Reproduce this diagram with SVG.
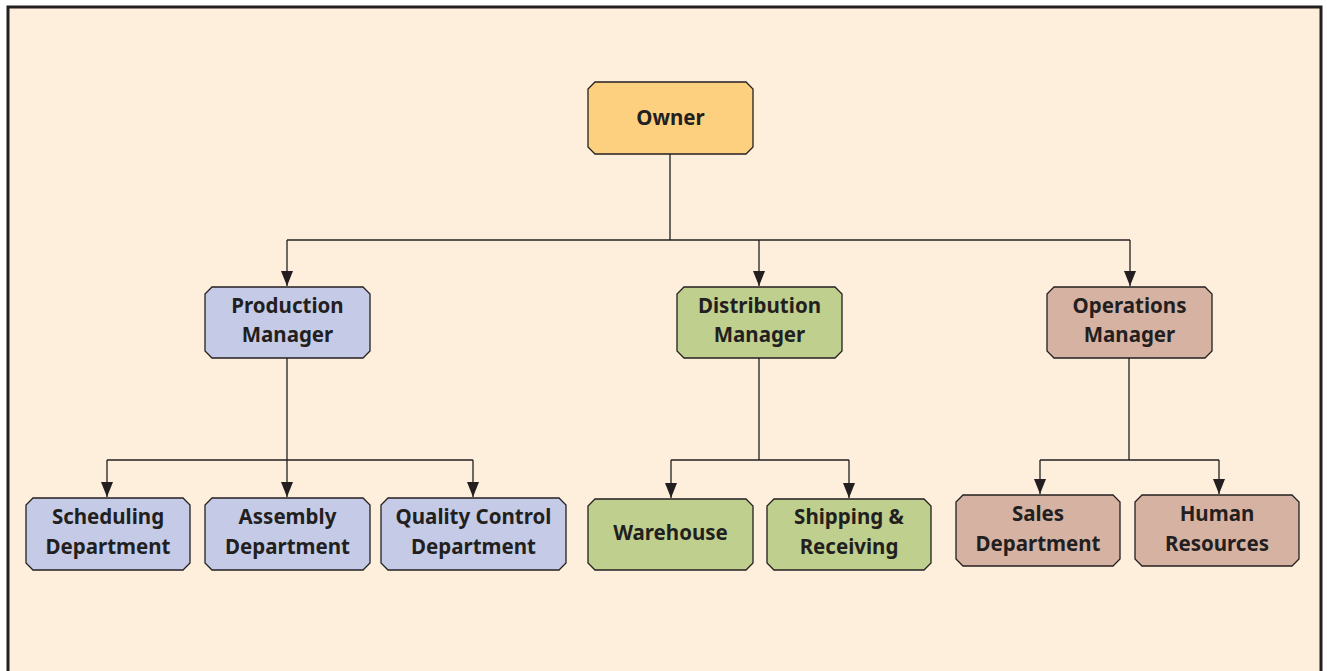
<svg xmlns="http://www.w3.org/2000/svg" width="1327" height="671" viewBox="0 0 1327 671">
<defs>
<style>
.bx{stroke:#231f20;stroke-width:1.3}
.own{fill:#fdd080}.blu{fill:#c5cbe6}.grn{fill:#bfcf8e}.brn{fill:#d6b2a3}
text{font-family:"Noto Sans","Open Sans",sans-serif;font-weight:700;font-size:20.5px;fill:#231f20;text-anchor:middle}
.ln{fill:none;stroke:#231f20;stroke-width:1.3}
</style>
<marker id="a" markerUnits="userSpaceOnUse" markerWidth="14" markerHeight="17" viewBox="-7 -16 14 17" refX="0" refY="0" orient="0">
<path d="M-6,-15 L6,-15 L0,0 Z" fill="#231f20"/>
</marker>
</defs>
<rect x="8" y="7" width="1313" height="680" fill="#feefdc" stroke="#231f20" stroke-width="3"/>
<g id="connectors" class="ln">
<path d="M670,154 V240 M287,240 H1130"/>
<path d="M287,240 V286" marker-end="url(#a)"/>
<path d="M759,240 V286" marker-end="url(#a)"/>
<path d="M1130,240 V286" marker-end="url(#a)"/>
<path d="M287,358 V460 M107,460 H473"/>
<path d="M107,460 V497" marker-end="url(#a)"/>
<path d="M287,460 V497" marker-end="url(#a)"/>
<path d="M473,460 V497" marker-end="url(#a)"/>
<path d="M759,358 V460 M671,460 H849"/>
<path d="M671,460 V498" marker-end="url(#a)"/>
<path d="M849,460 V498" marker-end="url(#a)"/>
<path d="M1129,358 V460 M1040,460 H1219"/>
<path d="M1040,460 V494" marker-end="url(#a)"/>
<path d="M1219,460 V494" marker-end="url(#a)"/>
</g>
<g id="owner"><polygon class="bx own" points="595,82 746,82 753,89 753,147 746,154 595,154 588,147 588,89"/><text x="670.5" y="125">Owner</text></g>
<g id="production-manager"><polygon class="bx blu" points="212,287 363,287 370,294 370,351 363,358 212,358 205,351 205,294"/><text x="287.5" y="313">Production</text><text x="287.5" y="342">Manager</text></g>
<g id="distribution-manager"><polygon class="bx grn" points="684,287 835,287 842,294 842,351 835,358 684,358 677,351 677,294"/><text x="759.5" y="313">Distribution</text><text x="759.5" y="342">Manager</text></g>
<g id="operations-manager"><polygon class="bx brn" points="1054,287 1205,287 1212,294 1212,351 1205,358 1054,358 1047,351 1047,294"/><text x="1129.5" y="313">Operations</text><text x="1129.5" y="342">Manager</text></g>
<g id="scheduling"><polygon class="bx blu" points="33,498 183,498 190,505 190,563 183,570 33,570 26,563 26,505"/><text x="108" y="524">Scheduling</text><text x="108" y="554">Department</text></g>
<g id="assembly"><polygon class="bx blu" points="212,498 363,498 370,505 370,563 363,570 212,570 205,563 205,505"/><text x="287.5" y="524">Assembly</text><text x="287.5" y="554">Department</text></g>
<g id="quality-control"><polygon class="bx blu" points="388,498 559,498 566,505 566,563 559,570 388,570 381,563 381,505"/><text x="473.5" y="524">Quality Control</text><text x="473.5" y="554">Department</text></g>
<g id="warehouse"><polygon class="bx grn" points="595,499 746,499 753,506 753,563 746,570 595,570 588,563 588,506"/><text x="670.5" y="540">Warehouse</text></g>
<g id="shipping"><polygon class="bx grn" points="774,499 924,499 931,506 931,563 924,570 774,570 767,563 767,506"/><text x="849" y="524">Shipping &amp;</text><text x="849" y="554">Receiving</text></g>
<g id="sales"><polygon class="bx brn" points="963,495 1113,495 1120,502 1120,559 1113,566 963,566 956,559 956,502"/><text x="1038" y="521">Sales</text><text x="1038" y="551">Department</text></g>
<g id="human-resources"><polygon class="bx brn" points="1142,495 1292,495 1299,502 1299,559 1292,566 1142,566 1135,559 1135,502"/><text x="1217" y="521">Human</text><text x="1217" y="551">Resources</text></g>
</svg>
